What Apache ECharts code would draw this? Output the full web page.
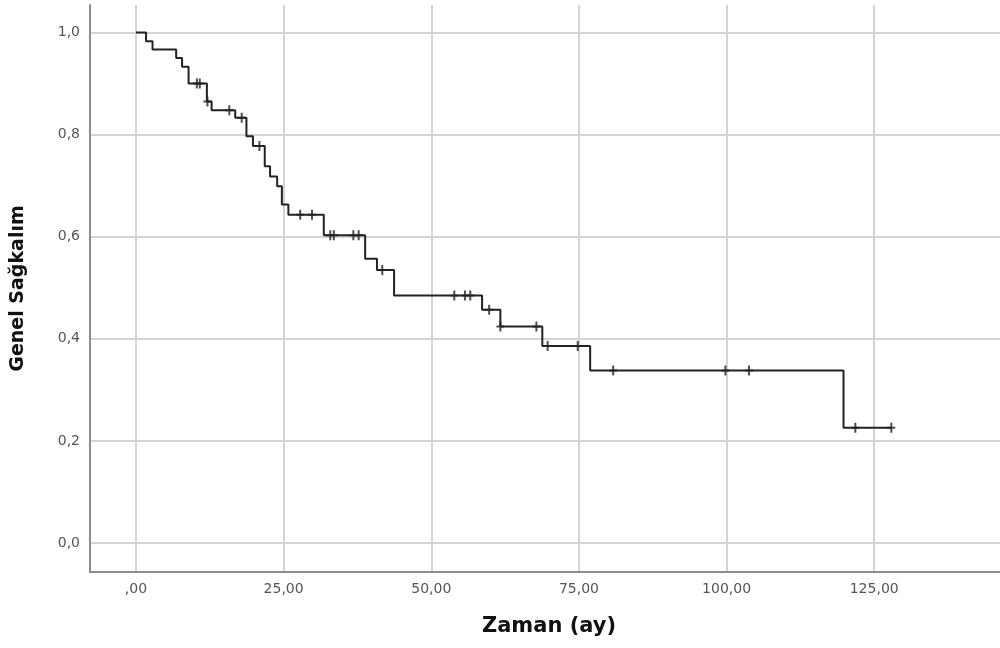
<!DOCTYPE html>
<html>
<head>
<meta charset="utf-8">
<title>Genel Sağkalım</title>
<script src="https://cdn.jsdelivr.net/npm/echarts@6/dist/echarts.min.js"></script>
<style>
  html, body { margin: 0; padding: 0; background: #fff; }
  #chart { width: 1000px; height: 648px; }
</style>
</head>
<body>
<div id="chart"></div>
<script>
// Kaplan-Meier step curve: time of each drop (months) and survival after it
const eventTimes = [0, 1.7, 2.8, 6.8, 7.8, 8.9, 12.0, 12.8, 16.8, 18.7, 19.8, 21.8, 22.7, 23.9, 24.7, 25.8, 31.8, 38.8, 40.8, 43.7, 58.6, 61.7, 68.8, 76.9, 119.8, 128.0];
const survival   = [1.0, 0.983, 0.967, 0.950, 0.933, 0.900, 0.865, 0.848, 0.833, 0.797, 0.778, 0.738, 0.718, 0.699, 0.663, 0.643, 0.603, 0.557, 0.535, 0.485, 0.457, 0.424, 0.386, 0.338, 0.226, 0.226];

// Censored observations (+ marks)
const censorTimes    = [10.3, 10.8, 12.1, 15.8, 17.9, 20.9, 27.8, 29.8, 32.9, 33.5, 36.8, 37.7, 41.7, 53.9, 55.7, 56.6, 59.8, 61.7, 67.8, 69.7, 74.8, 80.8, 99.8, 103.8, 121.8, 127.9];
const censorSurvival = [0.900, 0.900, 0.865, 0.848, 0.833, 0.778, 0.643, 0.643, 0.603, 0.603, 0.603, 0.603, 0.535, 0.485, 0.485, 0.485, 0.457, 0.424, 0.424, 0.386, 0.386, 0.338, 0.338, 0.338, 0.226, 0.226];

// Axis ticks
const xTickValues = [0, 25, 50, 75, 100, 125];
const yTickValues = [0, 0.2, 0.4, 0.6, 0.8, 1.0];

const xAxisTitle = 'Zaman (ay)';
const yAxisTitle = 'Genel Sağkalım';

const curveData = eventTimes.map((t, i) => [t, survival[i]]);
const censorData = censorTimes.map((t, i) => [t, censorSurvival[i]]);

const fmtX = v => (v === 0 ? ',00' : v.toFixed(2).replace('.', ','));
const fmtY = v => v.toFixed(1).replace('.', ',');

// plus-shaped censor mark
const plusMark = 'path://M3,0h2v10h-2z M0,4h8v2h-8z';

const chart = echarts.init(document.getElementById('chart'), null, { renderer: 'canvas' });
chart.setOption({
  backgroundColor: '#ffffff',
  animation: false,
  grid: { left: 90, right: 0, top: 5, bottom: 76, containLabel: false },
  xAxis: {
    type: 'value',
    min: -7.79,
    max: 146.3,
    name: xAxisTitle,
    nameLocation: 'middle',
    nameGap: 44,
    nameTextStyle: { fontFamily: 'DejaVu Sans', fontWeight: 'bold', fontSize: 21, color: '#111', padding: [0, 0, 0, 8] },
    axisLine: { show: true, onZero: false, lineStyle: { color: '#8c8c8c', width: 2 } },
    axisTick: { show: false, customValues: xTickValues },
    axisLabel: {
      customValues: xTickValues,
      formatter: fmtX,
      margin: 10,
      fontFamily: 'DejaVu Sans',
      fontSize: 14,
      color: '#555'
    },
    splitLine: { show: true, lineStyle: { color: '#d4d4d4', width: 2 } }
  },
  yAxis: {
    type: 'value',
    min: -0.0568,
    max: 1.054,
    name: yAxisTitle,
    nameLocation: 'middle',
    nameGap: 62,
    nameTextStyle: { fontFamily: 'DejaVu Sans', fontWeight: 'bold', fontSize: 19, color: '#111' },
    axisLine: { show: true, onZero: false, lineStyle: { color: '#8c8c8c', width: 2 } },
    axisTick: { show: false, customValues: yTickValues },
    axisLabel: {
      customValues: yTickValues,
      formatter: fmtY,
      margin: 10,
      fontFamily: 'DejaVu Sans',
      fontSize: 14,
      color: '#555'
    },
    splitLine: { show: true, lineStyle: { color: '#d4d4d4', width: 2 } }
  },
  series: [
    {
      type: 'line',
      step: 'end',
      data: curveData,
      showSymbol: false,
      lineStyle: { color: '#222', width: 2 },
      z: 3
    },
    {
      type: 'scatter',
      data: censorData,
      symbol: plusMark,
      symbolSize: [8, 10],
      itemStyle: { color: '#222' },
      z: 4
    }
  ]
});
</script>
</body>
</html>
